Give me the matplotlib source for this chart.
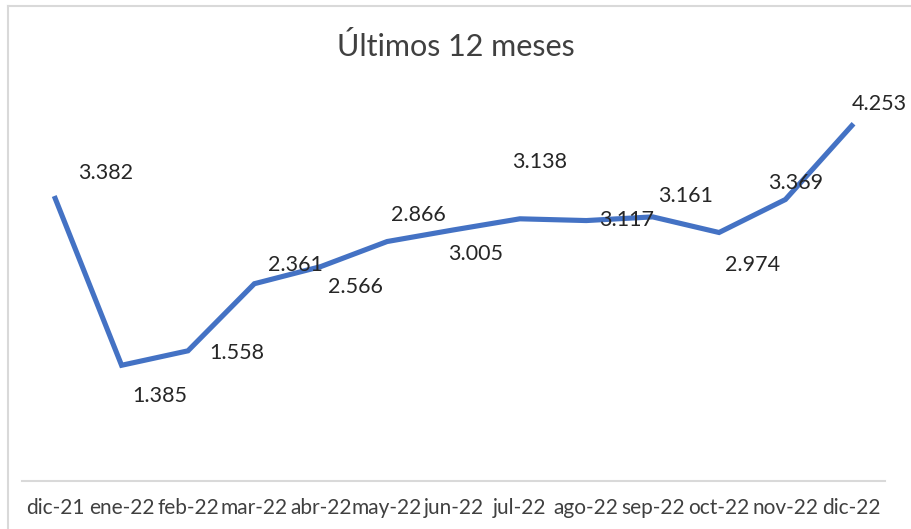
import matplotlib.pyplot as plt
from matplotlib.lines import Line2D

meses = ['dic-21', 'ene-22', 'feb-22', 'mar-22', 'abr-22', 'may-22', 'jun-22',
         'jul-22', 'ago-22', 'sep-22', 'oct-22', 'nov-22', 'dic-22']
valores = [3.382, 1.385, 1.558, 2.361, 2.566, 2.866, 3.005,
           3.138, 3.117, 3.161, 2.974, 3.369, 4.253]
etiquetas = ['3.382', '1.385', '1.558', '2.361', '2.566', '2.866', '3.005',
             '3.138', '3.117', '3.161', '2.974', '3.369', '4.253']

# desplazamiento de las etiquetas (pixeles, y hacia arriba)
desp = [(50, 25), (38, -31), (49, -2), (41, 19), (35, -20), (31, 27), (22, -24),
        (20, 57), (40, 1), (33, 21), (34, -32), (10, 17), (28, 22)]

plt.rcParams['font.family'] = ['Lato', 'DejaVu Sans']

fig = plt.figure(figsize=(9.12, 5.29), dpi=100)
ax = fig.add_axes([22 / 912, 1 - 481 / 529, (885 - 22) / 912, (481 - 105) / 529])

x = list(range(len(meses)))
ax.plot(x, valores, color='#4472C4', linewidth=3.7, solid_joinstyle='miter')

for i, (v, t) in enumerate(zip(valores, etiquetas)):
    dx, dy = desp[i]
    ax.annotate(t, (i, v), xytext=(dx * 0.72, dy * 0.72), textcoords='offset points',
                ha='center', va='center', fontsize=15.5, color='#262626')

ax.set_xlim(-0.5, len(meses) - 0.5)
ax.set_ylim(0, 4.5)
ax.set_xticks(x)
ax.set_xticklabels(meses, fontsize=15, color='#404040')
ax.tick_params(axis='x', length=0, pad=12)
ax.set_yticks([])
for s in ['top', 'right', 'left']:
    ax.spines[s].set_visible(False)
ax.spines['bottom'].set_color('#D9D9D9')
ax.spines['bottom'].set_linewidth(1.5)

fig.text(0.5, 1 - 47 / 529, 'Últimos 12 meses', ha='center', va='center',
         fontsize=22, color='#404040')

# borde del gráfico
fig.add_artist(Line2D([8 / 912, 1], [1 - 6 / 529, 1 - 6 / 529], color='#D9D9D9', linewidth=1.5))
fig.add_artist(Line2D([8 / 912, 8 / 912], [0, 1 - 6 / 529], color='#D9D9D9', linewidth=1.5))

fig.savefig('out.png', dpi=100)
